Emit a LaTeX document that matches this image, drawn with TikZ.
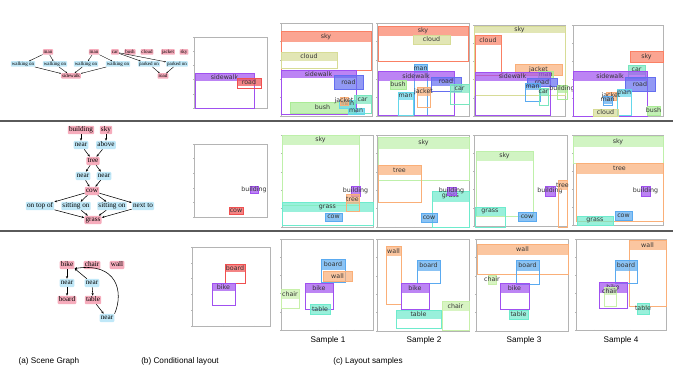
\documentclass[tikz,border=0pt]{standalone}
\usepackage{fontspec}
\setmainfont{Liberation Sans}
\newfontfamily\serifg{Liberation Serif}
\newfontfamily\dejavu{DejaVu Sans}
\usetikzlibrary{arrows.meta}
\definecolor{pinkc}{RGB}{246,172,188}
\definecolor{bluec}{RGB}{192,232,248}
\definecolor{cSalmon}{RGB}{250,128,100}
\definecolor{cPurple}{RGB}{160,80,240}
\definecolor{cBlue}{RGB}{100,110,240}
\definecolor{cBlueL}{RGB}{90,170,240}
\definecolor{cCyan}{RGB}{100,215,235}
\definecolor{cTeal}{RGB}{120,230,190}
\definecolor{cOlive}{RGB}{215,220,150}
\definecolor{cLgreen}{RGB}{170,235,150}
\definecolor{cSkyG}{RGB}{190,240,170}
\definecolor{cOrange}{RGB}{250,175,120}
\definecolor{cAqua}{RGB}{110,235,205}
\definecolor{cRed}{RGB}{240,80,80}
\definecolor{cChair}{RGB}{200,240,170}
\definecolor{frameg}{RGB}{180,180,180}
\definecolor{sepg}{RGB}{90,90,90}
\newcommand{\lobj}[7]{%
  \draw[#5, line width=0.7pt] (#1,#2) rectangle (#3,#4);
  \fill[#5, opacity=0.7] (#1,#2) rectangle (#3,{#2+#6});
  \node[lbl] at ({(#1+#3)/2},{#2+#6/2}) {#7};
}
\newcommand{\frm}[4]{%
  \draw[frameg, line width=0.7pt] (#1,#2) rectangle (#3,#4);
  \foreach \i in {0,...,5} {
    \draw[frameg, line width=0.4pt] ({#1+\i*(#3-#1)/5},#4) -- ++(0,1.5);
    \draw[frameg, line width=0.4pt] (#1,{#2+\i*(#4-#2)/5}) -- ++(-1.5,0);
  }
}
\tikzset{
  lbl/.style={font=\dejavu\fontsize{6.3}{6.5}\selectfont, inner sep=0pt, text=black!80},
  gp/.style={fill=pinkc, rounded corners=1pt, inner xsep=1.2pt, inner ysep=0.8pt,
     text height=5pt, text depth=1.6pt, font=\serifg\fontsize{7.2}{7.2}\selectfont},
  gb/.style={gp, fill=bluec},
  sp/.style={fill=pinkc, rounded corners=0.8pt, inner xsep=0.9pt, inner ysep=0.5pt,
     text height=3.4pt, text depth=1.1pt, font=\serifg\fontsize{5}{5}\selectfont},
  sb/.style={sp, fill=bluec},
  ar/.style={-{Stealth[length=2.6pt,width=2.2pt]}, line width=0.55pt},
  ars/.style={-{Stealth[length=1.6pt,width=1.4pt]}, line width=0.4pt},
  captxt/.style={font=\fontsize{8.2}{9}\selectfont, inner sep=0pt}
}
\begin{document}
\begin{tikzpicture}[x=1pt,y=-1pt]
\useasboundingbox (0,0) rectangle (673,379);
\fill[white] (0,0) rectangle (673,379);

% separators
\draw[sepg, line width=1.1pt] (0,121) -- (673,121);
\draw[sepg, line width=1.1pt] (0,231) -- (673,231);

% ---------- scene graph 1 ----------
\node[sp] (g1m1) at (48,52) {man};
\node[sp] (g1m2) at (94,52) {man};
\node[sp] (g1car) at (115,52) {car};
\node[sp] (g1bush) at (130,52) {bush};
\node[sp] (g1cloud) at (147,52) {cloud};
\node[sp] (g1jack) at (168,52) {jacket};
\node[sp] (g1sky) at (184,52) {sky};
\node[sb] (g1w1) at (23,64) {walking on};
\node[sb] (g1w2) at (55,64) {walking on};
\node[sb] (g1w3) at (86,64) {walking on};
\node[sb] (g1w4) at (118,64) {walking on};
\node[sb] (g1p1) at (149,64) {parked on};
\node[sb] (g1p2) at (177,64) {parked on};
\node[sp] (g1sw) at (71,76) {sidewalk};
\node[sp] (g1road) at (163,76) {road};
\draw[ars] (g1m1) -- (g1w1);
\draw[ars] (g1m1) -- (g1w2);
\draw[ars] (g1w1) -- (g1sw);
\draw[ars] (g1w2) -- (g1sw);
\draw[ars] (g1m2) -- (g1w3);
\draw[ars] (g1m2) -- (g1w4);
\draw[ars] (g1w3) -- (g1sw);
\draw[ars] (g1w4) -- (g1sw);
\draw[ars] (g1car) -- (g1p1);
\draw[ars] (g1car) -- (g1p2);
\draw[ars] (g1p1) -- (g1road);
\draw[ars] (g1p2) -- (g1road);

% ---------- scene graph 2 ----------
\node[gp] (g2bld) at (81,130) {building};
\node[gp] (g2sky) at (106,130) {sky};
\node[gb] (g2n1) at (81,145) {near};
\node[gb] (g2ab) at (106,145) {above};
\node[gp] (g2tree) at (93,161) {tree};
\node[gb] (g2nl) at (83,176) {near};
\node[gb] (g2nr) at (104,176) {near};
\node[gp] (g2cow) at (92,191) {cow};
\node[gb] (g2top) at (40,206) {on top of};
\node[gb] (g2s1) at (76,206) {sitting on};
\node[gb] (g2s2) at (112,206) {sitting on};
\node[gb] (g2nx) at (143,206) {next to};
\node[gp] (g2grass) at (93,220) {grass};
\draw[ar] (g2bld) -- (g2n1);
\draw[ar] (g2n1) -- (g2tree);
\draw[ar] (g2sky) -- (g2ab);
\draw[ar] (g2ab) -- (g2tree);
\draw[ar] (g2tree) -- (g2nl);
\draw[ar] (g2tree) -- (g2nr);
\draw[ar] (g2nl) -- (g2cow);
\draw[ar] (g2nr) -- (g2cow);
\draw[ar] (g2cow) -- (g2top);
\draw[ar] (g2cow) -- (g2s1);
\draw[ar] (g2cow) -- (g2s2);
\draw[ar] (g2cow) -- (g2nx);
\draw[ar] (g2top) -- (g2grass);
\draw[ar] (g2s1) -- (g2grass);
\draw[ar] (g2s2) -- (g2grass);
\draw[ar] (g2nx) -- (g2grass);

% ---------- scene graph 3 ----------
\node[gp] (g3bike) at (67,265) {bike};
\node[gp] (g3chair) at (92,265) {chair};
\node[gp] (g3wall) at (117,265) {wall};
\node[gb] (g3n1) at (67,283) {near};
\node[gb] (g3n2) at (92,283) {near};
\node[gp] (g3board) at (67,300) {board};
\node[gp] (g3table) at (93,300) {table};
\node[gb] (g3n3) at (107,318) {near};
\draw[ar] (g3bike) -- (g3n1);
\draw[ar] (g3n1) -- (g3board);
\draw[ar] (g3n2) -- (g3bike.-25);
\draw[ar] (g3n2) -- (g3table);
\draw[ar] (g3table) -- (g3n3);
\draw[ar] (g3n3.north east) .. controls (124,292) and (117,262) .. (g3bike.-25);

% ---------- conditional layouts ----------
\frm{194}{37}{267}{108}
\lobj{195}{73}{254}{108}{cPurple}{8}{sidewalk}
\lobj{237}{78}{261}{88}{cRed}{8}{road}

\frm{194}{144}{267}{217}
\lobj{250}{186}{258}{193}{cPurple}{7}{building}
\lobj{229}{207}{243}{214}{cRed}{7}{cow}

\frm{192}{247}{270}{326}
\lobj{225}{264}{245}{283}{cRed}{8}{board}
\lobj{212}{283}{235}{305}{cPurple}{8}{bike}

% ---------- row 1 samples ----------
\frm{281}{23}{372}{116}
\lobj{281}{31}{371}{70}{cSalmon}{11}{sky}
\lobj{281}{52}{337}{68}{cOlive}{9}{cloud}
\lobj{281}{70}{356}{114}{cPurple}{8}{sidewalk}
\lobj{334}{75}{363}{89}{cBlue}{14}{road}
\lobj{290}{102}{355}{113}{cLgreen}{11}{bush}
\lobj{339}{100}{355}{108}{cCyan}{8}{man}
\lobj{340}{97}{348}{105}{cOrange}{8}{jacket}
\lobj{354}{95}{371}{113}{cTeal}{9}{car}
\lobj{348}{108}{364}{114}{cCyan}{6}{man}

\frm{377}{23}{469}{116}
\lobj{378}{26}{468}{61}{cSalmon}{10}{sky}
\lobj{413}{35}{450}{44}{cOlive}{9}{cloud}
\lobj{414}{64}{427}{115}{cBlueL}{9}{man}
\lobj{378}{71}{454}{115}{cPurple}{10}{sidewalk}
\lobj{431}{77}{461}{91}{cBlue}{9}{road}
\lobj{390}{80}{406}{89}{cLgreen}{9}{bush}
\lobj{450}{84}{469}{104}{cTeal}{9}{car}
\lobj{417}{87}{430}{107}{cOrange}{9}{jacket}
\lobj{398}{92}{413}{115}{cCyan}{8}{man}

\frm{474}{25}{565}{116}
\lobj{474}{26}{565}{95}{cOlive}{7}{sky}
\lobj{475}{35}{501}{75}{cSalmon}{10}{cloud}
\lobj{515}{64}{562}{75}{cOrange}{11}{jacket}
\lobj{538}{71}{553}{78}{cLgreen}{7}{man}
\lobj{475}{72}{550}{115}{cPurple}{9}{sidewalk}
\lobj{527}{78}{557}{86}{cBlue}{8}{road}
\lobj{525}{83}{540}{101}{cBlueL}{7}{man}
\lobj{557}{85}{567}{99}{cLgreen}{8}{building}
\lobj{539}{88}{548}{105}{cTeal}{8}{car}

\frm{573}{25}{663}{116}
\lobj{630}{51}{663}{62}{cSalmon}{11}{sky}
\lobj{628}{65}{645}{78}{cTeal}{10}{car}
\lobj{573}{71}{647}{116}{cPurple}{10}{sidewalk}
\lobj{625}{77}{655}{91}{cBlue}{14}{road}
\lobj{617}{89}{631}{115}{cCyan}{8}{man}
\lobj{606}{92}{616}{100}{cOrange}{8}{jacket}
\lobj{603}{96}{612}{105}{cBlueL}{8}{man}
\lobj{593}{109}{618}{116}{cOlive}{7}{cloud}
\lobj{647}{106}{660}{115}{cLgreen}{9}{bush}

% ---------- row 2 samples ----------
\frm{282}{135}{373}{227}
\lobj{282}{135}{359}{205}{cSkyG}{10}{sky}
\lobj{282}{202}{373}{225}{cAqua}{10}{grass}
\lobj{351}{186}{360}{196}{cPurple}{10}{building}
\lobj{346}{194}{359}{211}{cOrange}{10}{tree}
\lobj{325}{213}{342}{221}{cBlueL}{8}{cow}

\frm{377}{135}{469}{227}
\lobj{378}{137}{469}{180}{cSkyG}{12}{sky}
\lobj{378}{165}{421}{202}{cOrange}{10}{tree}
\lobj{432}{191}{469}{227}{cAqua}{11}{grass}
\lobj{447}{187}{456}{195}{cPurple}{8}{building}
\lobj{421}{213}{437}{222}{cBlueL}{9}{cow}

\frm{474}{135}{567}{226}
\lobj{476}{151}{533}{216}{cSkyG}{10}{sky}
\lobj{475}{207}{505}{227}{cAqua}{9}{grass}
\lobj{545}{186}{555}{196}{cPurple}{10}{building}
\lobj{558}{180}{567}{227}{cOrange}{10}{tree}
\lobj{518}{212}{536}{221}{cBlueL}{9}{cow}

\frm{573}{135}{663}{225}
\lobj{573}{136}{663}{163}{cSkyG}{11}{sky}
\lobj{576}{163}{663}{221}{cOrange}{11}{tree}
\lobj{641}{186}{650}{196}{cPurple}{10}{building}
\lobj{615}{211}{632}{220}{cBlueL}{9}{cow}
\lobj{577}{216}{613}{225}{cAqua}{9}{grass}

% ---------- row 3 samples ----------
\frm{281}{239}{373}{330}
\lobj{321}{259}{345}{282}{cBlueL}{11}{board}
\lobj{323}{271}{352}{281}{cOrange}{10}{wall}
\lobj{305}{283}{333}{309}{cPurple}{10}{bike}
\lobj{281}{289}{299}{308}{cChair}{10}{chair}
\lobj{310}{304}{330}{314}{cAqua}{10}{table}

\frm{377}{239}{469}{331}
\lobj{386}{246}{401}{304}{cOrange}{10}{wall}
\lobj{417}{260}{440}{283}{cBlueL}{11}{board}
\lobj{401}{283}{429}{309}{cPurple}{10}{bike}
\lobj{442}{301}{469}{330}{cChair}{10}{chair}
\lobj{396}{310}{441}{328}{cAqua}{9}{table}

\frm{476}{239}{568}{331}
\lobj{477}{244}{568}{274}{cOrange}{11}{wall}
\lobj{516}{260}{539}{284}{cBlueL}{11}{board}
\lobj{488}{275}{496}{284}{cChair}{9}{chair}
\lobj{500}{283}{529}{309}{cPurple}{10}{bike}
\lobj{509}{310}{528}{319}{cAqua}{9}{table}

\frm{576}{239}{666}{330}
\lobj{629}{240}{666}{306}{cOrange}{10}{wall}
\lobj{615}{260}{637}{283}{cBlueL}{11}{board}
\lobj{599}{282}{627}{308}{cPurple}{11}{bike}
\lobj{604}{287}{616}{306}{cChair}{8}{chair}
\lobj{637}{303}{649}{314}{cAqua}{11}{table}

% ---------- captions ----------
\node[captxt] (s1) at (328,340) {Sample 1};
\node[captxt] (s2) at (424,340) {Sample 2};
\node[captxt] (s3) at (524,340) {Sample 3};
\node[captxt] (s4) at (621,340) {Sample 4};
\node[captxt] (ca) at (49,361) {(a) Scene Graph};
\node[captxt] (cb) at (180,361) {(b) Conditional layout};
\node[captxt] (cc) at (368,361) {(c) Layout samples};
\end{tikzpicture}
\end{document}
